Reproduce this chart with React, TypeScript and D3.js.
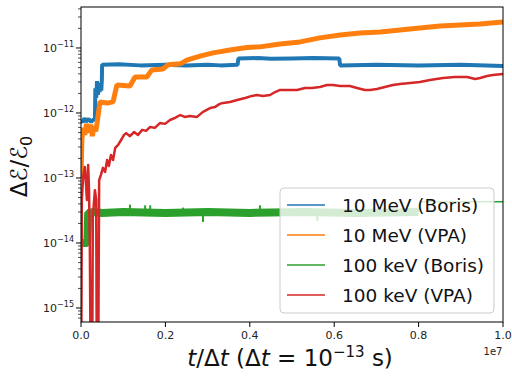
import React from "react"
import * as d3 from "d3"

// time in units of 1e7 steps, value = relative energy error
const meVBoris: [number, number][] = [
  [0, 7.8e-13], [0.004, 7.2e-13], [0.008, 8.3e-13], [0.012, 7.4e-13], [0.018, 8.1e-13],
  [0.024, 7.3e-13], [0.03, 8.0e-13], [0.033, 7.6e-13], [0.034, 2.4e-12], [0.036, 1.7e-12],
  [0.038, 3.1e-12], [0.04, 1.9e-12], [0.042, 2.9e-12], [0.044, 2.1e-12], [0.046, 2.7e-12],
  [0.048, 2.2e-12], [0.0495, 3.3e-12], [0.05, 5.5e-12], [0.09, 5.6e-12], [0.14, 5.4e-12],
  [0.2, 5.5e-12], [0.25, 5.4e-12], [0.3, 5.5e-12], [0.33, 5.4e-12], [0.371, 5.5e-12],
  [0.373, 6.9e-12], [0.42, 7.0e-12], [0.45, 6.8e-12], [0.5, 6.9e-12], [0.55, 7.0e-12],
  [0.612, 6.9e-12], [0.614, 5.4e-12], [0.7, 5.5e-12], [0.8, 5.4e-12], [0.9, 5.5e-12],
  [1.0, 5.3e-12],
]

const meVVpa: [number, number][] = [
  [0, 1.0e-13], [0.002, 3.8e-13], [0.005, 5.9e-13], [0.009, 4.6e-13], [0.013, 6.8e-13],
  [0.018, 5.0e-13], [0.023, 6.6e-13], [0.027, 4.4e-13], [0.031, 6.2e-13], [0.035, 5.2e-13],
  [0.038, 7.0e-13], [0.045, 1.48e-12], [0.062, 1.42e-12], [0.076, 1.48e-12], [0.085, 2.7e-12],
  [0.116, 2.6e-12], [0.128, 3.58e-12], [0.156, 3.58e-12], [0.168, 4.6e-12], [0.194, 4.75e-12],
  [0.206, 5.5e-12], [0.235, 5.7e-12], [0.251, 6.5e-12], [0.282, 7.5e-12], [0.313, 8.4e-12],
  [0.353, 9.3e-12], [0.393, 1.02e-11], [0.424, 1.04e-11], [0.472, 1.15e-11], [0.519, 1.24e-11],
  [0.566, 1.43e-11], [0.614, 1.58e-11], [0.661, 1.7e-11], [0.709, 1.76e-11], [0.756, 1.89e-11],
  [0.803, 2.03e-11], [0.851, 2.18e-11], [0.898, 2.26e-11], [0.945, 2.34e-11], [1.0, 2.51e-11],
]

const keVBoris: [number, number][] = [
  [0, 1.0e-14], [0.015, 1.0e-14], [0.017, 2.9e-14], [0.03, 3.0e-14], [0.05, 2.9e-14],
  [0.1, 3.0e-14], [0.2, 2.9e-14], [0.3, 3.0e-14], [0.4, 2.9e-14], [0.53, 3.0e-14],
  [0.65, 2.9e-14], [0.8, 3.0e-14],
]
// isolated noise spikes on the 100 keV (Boris) band: [t, tip value]
const keVBorisSpikes: [number, number][] = [
  [0.116, 3.9e-14], [0.152, 3.8e-14], [0.164, 3.8e-14], [0.242, 3.5e-14],
  [0.289, 2.1e-14], [0.424, 3.8e-14], [0.56, 2.2e-14],
]
const keVBorisTail: [number, number][] = [[0.8, 3.0e-14], [0.805, 4.3e-14], [1.0, 4.3e-14]]

// 1e-17 marks the drops below the axis
const keVVpa: [number, number][] = [
  [0, 1e-17], [0.002, 4.6e-14], [0.005, 1.04e-13], [0.009, 1.48e-13], [0.012, 7.8e-14],
  [0.014, 4.6e-14], [0.017, 1.58e-13], [0.019, 6.5e-14], [0.021, 7.8e-15], [0.024, 1e-17],
  [0.026, 1e-17], [0.028, 2.51e-14], [0.033, 6.5e-14], [0.036, 4.6e-14], [0.038, 1e-17],
  [0.04, 1e-17], [0.043, 9.3e-14], [0.047, 1.11e-13], [0.052, 1.43e-13], [0.057, 1.24e-13],
  [0.062, 1.89e-13], [0.066, 1.53e-13], [0.071, 2.26e-13], [0.076, 1.89e-13], [0.081, 2.9e-13],
  [0.088, 3.22e-13], [0.095, 3.84e-13], [0.102, 4.6e-13], [0.107, 4.9e-13], [0.116, 4.4e-13],
  [0.126, 5.1e-13], [0.135, 4.6e-13], [0.145, 5.5e-13], [0.154, 5.3e-13], [0.164, 6.1e-13],
  [0.175, 5.9e-13], [0.187, 7.0e-13], [0.199, 6.8e-13], [0.211, 7.8e-13], [0.223, 8.4e-13],
  [0.235, 9.3e-13], [0.246, 8.7e-13], [0.258, 9.0e-13], [0.275, 8.7e-13], [0.289, 1.04e-12],
  [0.306, 1.19e-12], [0.318, 1.24e-12], [0.329, 1.38e-12], [0.337, 1.43e-12], [0.353, 1.48e-12],
  [0.37, 1.58e-12], [0.389, 1.7e-12], [0.405, 1.83e-12], [0.417, 1.89e-12], [0.431, 1.83e-12],
  [0.448, 1.89e-12], [0.46, 2.1e-12], [0.472, 2.26e-12], [0.491, 2.26e-12], [0.512, 2.26e-12],
  [0.531, 2.43e-12], [0.547, 2.43e-12], [0.566, 2.51e-12], [0.583, 2.7e-12], [0.597, 2.7e-12],
  [0.614, 2.6e-12], [0.637, 2.6e-12], [0.654, 2.43e-12], [0.673, 2.26e-12], [0.685, 2.26e-12],
  [0.701, 2.34e-12], [0.72, 2.51e-12], [0.739, 2.7e-12], [0.756, 2.79e-12], [0.78, 2.9e-12],
  [0.803, 3.0e-12], [0.827, 3.22e-12], [0.858, 3.45e-12], [0.886, 3.58e-12], [0.915, 3.58e-12],
  [0.934, 3.33e-12], [0.946, 3.45e-12], [0.962, 3.71e-12], [0.976, 3.84e-12], [1.0, 3.98e-12],
]

const legendLabels = ["10 MeV (Boris)", "10 MeV (VPA)", "100 keV (Boris)", "100 keV (VPA)"]
const colors = ["#1f77b4", "#ff7f0e", "#2ca02c", "#d62728"]
const xTicks = [0, 0.2, 0.4, 0.6, 0.8, 1.0]
const yTickExps = [-15, -14, -13, -12, -11]

const W = 512
const H = 376
const m = { left: 81, right: 503, top: 7, bottom: 322 }
const font = "DejaVu Sans"

export default function App() {
  const x = d3.scaleLinear().domain([0, 1e7]).range([m.left, m.right])
  const y = d3.scaleLog().domain([6.09e-16, 4.27e-11]).range([m.bottom, m.top])

  const line = d3.line<[number, number]>()
    .x(d => x(d[0] * 1e7))
    .y(d => y(d[1]))

  const minor: number[] = []
  for (let e = -16; e <= -11; e++) {
    for (let k = 2; k <= 9; k++) {
      const v = k * Math.pow(10, e)
      if (v >= y.domain()[0] && v <= y.domain()[1]) minor.push(v)
    }
  }

  const series = [
    { data: meVBoris, color: colors[0], w: 4 },
    { data: meVVpa, color: colors[1], w: 5 },
    { data: keVBoris, color: colors[2], w: 8 },
    { data: keVBorisTail, color: colors[2], w: 1.5 },
    { data: keVVpa, color: colors[3], w: 2.5 },
  ]

  return (
    <div style={{ position: "fixed", left: 0, top: 0 }}>
      <svg width={W} height={H} style={{ display: "block", background: "white" }}>
        <defs>
          <clipPath id="plot">
            <rect x={m.left} y={m.top} width={m.right - m.left} height={m.bottom - m.top} />
          </clipPath>
        </defs>

        <g clipPath="url(#plot)">
          {series.slice(0, 4).map((s, i) => (
            <path key={i} d={line(s.data) || ""} fill="none" stroke={s.color}
              strokeWidth={s.w} strokeLinejoin="bevel" />
          ))}
          {keVBorisSpikes.map(([t, v]) => (
            <line key={t} x1={x(t * 1e7)} x2={x(t * 1e7)} y1={y(3.0e-14)} y2={y(v)}
              stroke={colors[2]} strokeWidth={2} />
          ))}
          <path d={line(series[4].data) || ""} fill="none" stroke={series[4].color}
            strokeWidth={series[4].w} strokeLinejoin="round" />
        </g>

        {/* axes frame */}
        <rect x={m.left} y={m.top} width={m.right - m.left} height={m.bottom - m.top}
          fill="none" stroke="black" strokeWidth={1} />

        {/* x ticks */}
        {xTicks.map(t => (
          <g key={t}>
            <line x1={x(t * 1e7)} x2={x(t * 1e7)} y1={m.bottom} y2={m.bottom + 5} stroke="black" />
            <text x={x(t * 1e7)} y={m.bottom + 17} fontSize={11} fontFamily={font}
              textAnchor="middle" fill="#222">{t.toFixed(1)}</text>
          </g>
        ))}
        <text x={m.right - 10} y={355} fontSize={10} fontFamily={font} textAnchor="middle" fill="#222">1e7</text>

        {/* y ticks */}
        {minor.map(v => (
          <line key={v} x1={m.left - 3} x2={m.left} y1={y(v)} y2={y(v)} stroke="black" strokeWidth={0.7} />
        ))}
        {yTickExps.map(e => (
          <g key={e}>
            <line x1={m.left - 5} x2={m.left} y1={y(Math.pow(10, e))} y2={y(Math.pow(10, e))} stroke="black" />
            <text x={m.left - 7} y={y(Math.pow(10, e)) + 4} fontSize={11} fontFamily={font}
              textAnchor="end" fill="#222">
              10<tspan dy={-5} fontSize={8}>{"\u2212" + Math.abs(e)}</tspan>
            </text>
          </g>
        ))}

        {/* axis labels */}
        <text x={(m.left + m.right) / 2 - 2} y={366} fontSize={23} fontFamily={font} textAnchor="middle" fill="#111">
          <tspan fontStyle="italic">t</tspan>/Δ<tspan fontStyle="italic">t</tspan> (Δ<tspan fontStyle="italic">t</tspan> = 10
          <tspan dy={-9} fontSize={15}>−13</tspan><tspan dy={9}> s)</tspan>
        </text>
        <text transform={`translate(27, ${(m.top + m.bottom) / 2 + 2}) rotate(-90)`} fontSize={23}
          fontFamily={font} textAnchor="middle" fill="#111">
          Δℰ/ℰ<tspan dy={5} fontSize={16}>0</tspan>
        </text>

        {/* legend */}
        <rect x={280} y={188} width={214} height={125} rx={4} fill="white" fillOpacity={0.8}
          stroke="#cccccc" strokeWidth={1} />
        {legendLabels.map((lab, i) => {
          const cy = 205 + i * 30
          return (
            <g key={lab}>
              <line x1={287} x2={325} y1={cy} y2={cy} stroke={colors[i]} strokeWidth={1.5} />
              <text x={342} y={cy + 7} fontSize={18.5} fontFamily={font} fill="#111">{lab}</text>
            </g>
          )
        })}
      </svg>
    </div>
  )
}
